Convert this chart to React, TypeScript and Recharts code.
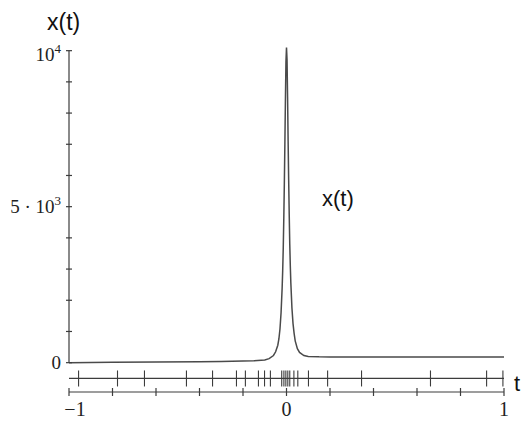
import React from "react";
import {
  ComposedChart,
  Line,
  ReferenceLine,
  Scatter,
  XAxis,
  YAxis,
} from "recharts";

// curve samples (t, x(t))
const T_VALUES = [
  -1, -0.8, -0.6, -0.4, -0.3, -0.2, -0.15, -0.1, -0.08, -0.06, -0.05, -0.04,
  -0.035, -0.03, -0.025, -0.02, -0.0175, -0.015, -0.0125, -0.01, -0.0075,
  -0.005, -0.0025, 0, 0.0025, 0.005, 0.0075, 0.01, 0.0125, 0.015, 0.0175, 0.02,
  0.025, 0.03, 0.035, 0.04, 0.05, 0.06, 0.08, 0.1, 0.15, 0.2, 0.3, 0.4, 0.6,
  0.8, 1,
];
const X_VALUES = [
  0, 10, 20, 30, 38, 50, 60, 85, 130, 230, 350, 560, 760, 1080, 1600, 2400,
  2950, 3650, 4600, 5700, 7000, 8400, 9650, 10100, 9700, 8500, 7100, 5850,
  4750, 3800, 3100, 2550, 1750, 1250, 940, 700, 450, 330, 230, 200, 188, 184,
  183, 182, 181, 180, 180,
];

// adaptive mesh points drawn as ticks on the second line
const MESH_T = [
  -0.956, -0.777, -0.653, -0.46, -0.34, -0.23, -0.189, -0.129, -0.101, -0.074,
  -0.022, -0.012, -0.003, 0.006, 0.015, 0.034, 0.052, 0.101, 0.189, 0.345,
  0.662, 0.92, 0.995,
];

const X_TICKS = [-1, -0.8, -0.6, -0.4, -0.2, 0, 0.2, 0.4, 0.6, 0.8, 1];
const X_LABELS = [-1, 0, 1];
const Y_TICKS = [0, 1000, 2000, 3000, 4000, 5000, 6000, 7000, 8000, 9000, 10000];

const MESH_LEVEL = -506;
const INK = "#3c3c3c";
const SERIF = "'Liberation Serif', 'Times New Roman', serif";
const SANS = "'Liberation Sans', Arial, sans-serif";

const curve = T_VALUES.map((t, i) => ({ t, x: X_VALUES[i] }));
const mesh = MESH_T.map((t) => ({ t, m: MESH_LEVEL }));

function XTick(props: any) {
  const { x, y, payload } = props;
  const v = payload.value;
  const show = X_LABELS.some((l) => Math.abs(l - v) < 1e-9);
  return (
    <g>
      <line x1={x} x2={x} y1={y - 4} y2={y + 4} stroke={INK} strokeWidth={1.2} />
      {show && (
        <text
          x={v < 0 ? x + 6 : x}
          y={y + 24}
          textAnchor="middle"
          fontFamily={SERIF}
          fontSize={20}
          fill="#222"
        >
          {v < 0 ? "\u2212" + Math.abs(v) : String(v)}
        </text>
      )}
    </g>
  );
}

function YTick(props: any) {
  const { x, y, payload } = props;
  const v = payload.value;
  let label: React.ReactNode = null;
  if (v === 0) label = "0";
  if (v === 5000)
    label = (
      <>
        <tspan>5 · 10</tspan>
        <tspan dy={-8} fontSize={13}>3</tspan>
      </>
    );
  if (v === 10000)
    label = (
      <>
        <tspan>10</tspan>
        <tspan dy={-8} fontSize={13}>4</tspan>
      </>
    );
  return (
    <g>
      <line x1={x - 3} x2={x + 3} y1={y} y2={y} stroke={INK} strokeWidth={1.2} />
      {label && (
        <text
          x={x - 8}
          y={y + (v === 10000 ? 10 : 6)}
          textAnchor="end"
          fontFamily={SERIF}
          fontSize={19}
          fill="#222"
        >
          {label}
        </text>
      )}
    </g>
  );
}

function MeshTick(props: any) {
  const { cx, cy } = props;
  return <line x1={cx} x2={cx} y1={cy - 8} y2={cy + 8} stroke={INK} strokeWidth={1.1} />;
}

const labelStyle: React.CSSProperties = {
  position: "absolute",
  fontFamily: SANS,
  fontSize: 22,
  lineHeight: "22px",
  color: "#111",
  whiteSpace: "nowrap",
};

export default function App() {
  return (
    <div style={{ position: "relative", width: 524, height: 423, background: "#fff", overflow: "hidden" }}>
      <style>{"body{margin:0}"}</style>
      <ComposedChart
        width={524}
        height={423}
        margin={{ top: 41, right: 20, bottom: 1, left: 5 }}
      >
        <XAxis
          type="number"
          dataKey="t"
          domain={[-1, 1]}
          ticks={X_TICKS}
          interval={0}
          allowDataOverflow
          height={30}
          tickSize={0}
          tickMargin={0}
          tickLine={false}
          axisLine={{ stroke: INK, strokeWidth: 1.2 }}
          tick={<XTick />}
        />
        <YAxis
          type="number"
          domain={[-940, 10310]}
          ticks={Y_TICKS}
          interval={0}
          allowDataOverflow
          width={64}
          tickSize={0}
          tickMargin={0}
          tickLine={false}
          axisLine={false}
          tick={<YTick />}
        />
        <ReferenceLine
          segment={[
            { x: -1, y: 0 },
            { x: -1, y: 10000 },
          ]}
          stroke={INK}
          strokeWidth={1.2}
        />
        <ReferenceLine
          segment={[
            { x: -1, y: MESH_LEVEL },
            { x: 1, y: MESH_LEVEL },
          ]}
          stroke={INK}
          strokeWidth={1.2}
        />
        <Scatter
          data={mesh}
          dataKey="m"
          shape={<MeshTick />}
          isAnimationActive={false}
        />
        <Line
          data={curve}
          dataKey="x"
          type="linear"
          stroke="#4a4a4a"
          strokeWidth={1.5}
          dot={false}
          isAnimationActive={false}
        />
      </ComposedChart>
      <div style={{ ...labelStyle, left: 47, top: 11, fontSize: 23 }}>x(t)</div>
      <div style={{ ...labelStyle, left: 322, top: 188 }}>x(t)</div>
      <div style={{ ...labelStyle, left: 514, top: 373 }}>t</div>
    </div>
  );
}
